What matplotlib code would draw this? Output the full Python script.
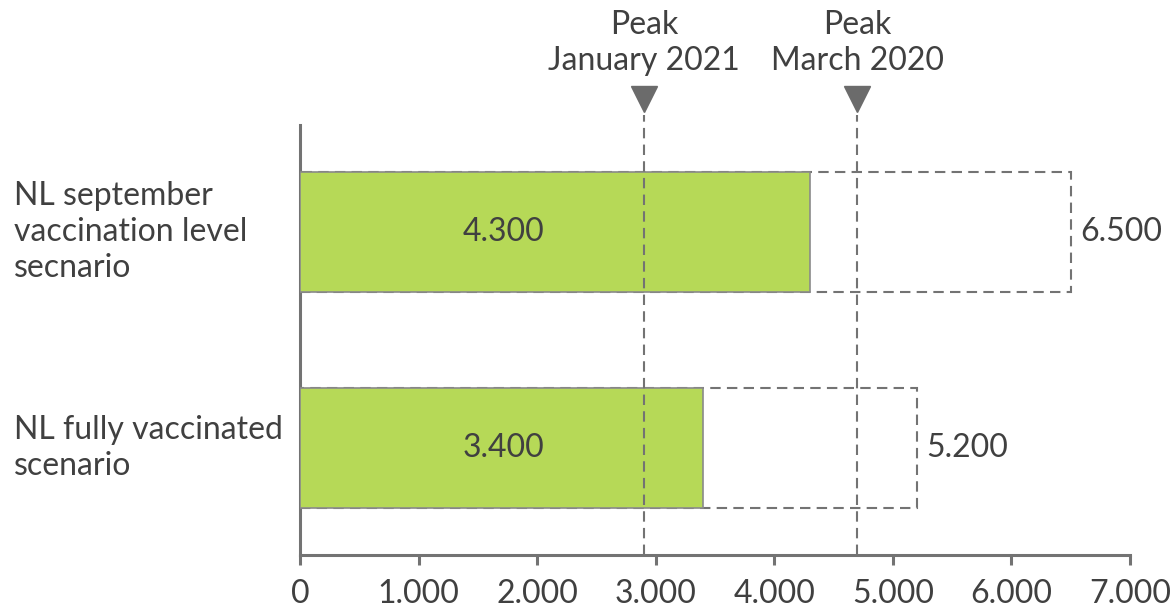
import matplotlib
matplotlib.use("Agg")
import matplotlib.pyplot as plt
from matplotlib.transforms import blended_transform_factory

categories = ["NL fully vaccinated\nscenario", "NL september\nvaccination level\nsecnario"]
base_values = [3400, 4300]
upper_values = [5200, 6500]
peak_values = [2900, 4700]
peak_labels = ["Peak\nJanuary 2021", "Peak\nMarch 2020"]
xticks = [0, 1000, 2000, 3000, 4000, 5000, 6000, 7000]
xtick_labels = ["0", "1.000", "2.000", "3.000", "4.000", "5.000", "6.000", "7.000"]

def fmt(v):
    return f"{v:,}".replace(",", ".")

plt.rcParams['font.family'] = ['Lato', 'DejaVu Sans']
TEXT = '#404040'
GRAY = '#737373'
GREEN = '#b6d957'
FS = 23

fig = plt.figure(figsize=(11.72, 6.13), dpi=100)
ax = fig.add_axes([300/1172, 58/613, 830/1172, 430/613])

ypos = list(range(len(categories)))
h = 0.556
DASH = (0, (5, 3))
ax.barh(ypos, upper_values, height=h, facecolor='none', edgecolor=GRAY,
        linestyle=DASH, linewidth=1.5, zorder=2)
ax.barh(ypos, base_values, height=h, color=GREEN, edgecolor='#8a8a8a',
        linewidth=1.2, zorder=3)

for y, b, u in zip(ypos, base_values, upper_values):
    ax.text(1720, y, fmt(b), ha='center', va='center', fontsize=FS, color=TEXT, zorder=5)
    ax.annotate(fmt(u), xy=(u, y), xytext=(7, 0), textcoords='offset points',
                ha='left', va='center', fontsize=FS, color=TEXT)

trans = blended_transform_factory(ax.transData, ax.transAxes)
for p, lab in zip(peak_values, peak_labels):
    ax.plot([p, p], [0, 1.023], transform=trans, color=GRAY, linestyle=DASH,
            linewidth=1.5, clip_on=False, zorder=4)
    ax.plot([p], [1.06], transform=trans, marker='v', markersize=19, color='#6b6b6b',
            clip_on=False, zorder=4)
    ax.text(p, 1.115, lab, transform=trans, ha='center', va='bottom', fontsize=FS,
            color=TEXT, linespacing=1.22)

transy = blended_transform_factory(ax.transAxes, ax.transData)
for y, c in zip(ypos, categories):
    ax.text(-286/830, y, c, transform=transy, ha='left', va='center', fontsize=FS,
            color=TEXT, linespacing=1.25)

ax.set_xlim(0, 7000)
ax.set_ylim(-0.495, 1.495)
ax.set_xticks(xticks)
ax.set_xticklabels(xtick_labels, fontsize=FS, color=TEXT)
ax.set_yticks([])
ax.tick_params(axis='x', direction='out', length=7, width=2.2, color=GRAY, pad=10)
for s in ['top', 'right']:
    ax.spines[s].set_visible(False)
for s in ['left', 'bottom']:
    ax.spines[s].set_color(GRAY)
    ax.spines[s].set_linewidth(2.2)

fig.savefig('out.png', dpi=100)
